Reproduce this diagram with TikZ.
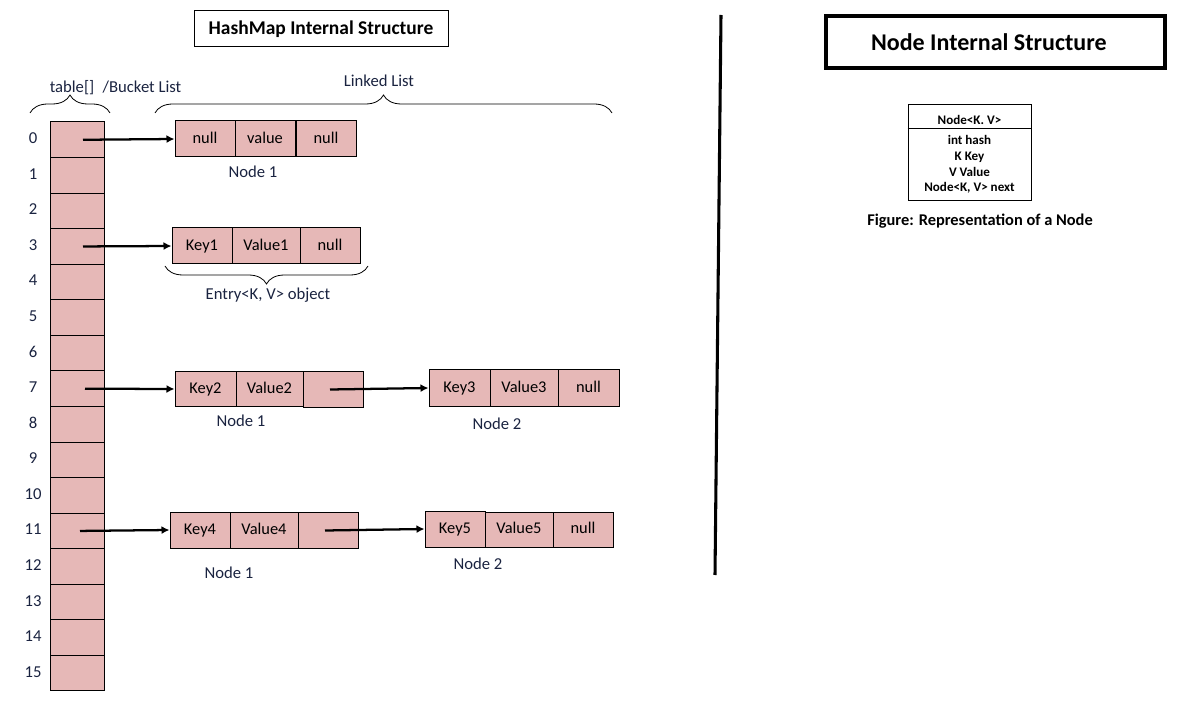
\documentclass[tikz,border=0pt]{standalone}
\usepackage{fontspec}
\setmainfont{Carlito}
\usetikzlibrary{arrows.meta,decorations.pathreplacing}
\definecolor{cellpink}{HTML}{E6B8B7}
\definecolor{labnavy}{HTML}{1A2340}
\tikzset{
  cell/.style={draw=black, line width=0.75pt, fill=cellpink, inner sep=0pt, font=\fontsize{12.3}{14}\selectfont, text=black},
  lab/.style={inner sep=0pt, font=\fontsize{12.5}{14}\selectfont, text=labnavy, text height=8.6pt, text depth=2.6pt, yshift=-1.3pt},
  ptr/.style={line width=1.7pt, -{Latex[length=6pt,width=6pt]}},
  bracedec/.style={decorate, decoration={brace, amplitude=13.5pt}, line width=0.6pt},
  nodetxt/.style={inner sep=0pt, font=\fontsize{9.8}{11}\selectfont\bfseries, text height=7pt, text depth=2pt, yshift=-1pt}
}
\newcommand\mkcell[6]{\node[cell, minimum width=#4*0.75pt, minimum height=#5*0.75pt] (#1) at (#2,#3) {\raisebox{1.5pt}{\vphantom{Kyl}#6}};}
\begin{document}
\begin{tikzpicture}[x=0.75pt,y=-0.75pt]
\useasboundingbox (0,0) rectangle (1200,709);
% title
\node[draw, line width=0.75pt, minimum width=254*0.75pt, minimum height=36*0.75pt, font=\fontsize{14.6}{17}\selectfont\bfseries] (title) at (321,29) {HashMap Internal Structure};
% table
\foreach \i in {0,...,15}{
  \node[cell, minimum width=54*0.75pt, minimum height=35.56*0.75pt] (t\i) at (77,{139.78+35.56*\i}) {};
  \node[lab] (idx\i) at (33,{138+35.56*\i}) {\i};
}
\node[lab] (tbl) at (72,87) {table[]};
\node[lab] (bkt) at (142,87) {/Bucket List};
\node[lab] (ll) at (379,81) {Linked List};
\coordinate (b1a) at (30,113);
\coordinate (b1b) at (110,113);
\draw[bracedec] (b1a) -- (b1b);
\coordinate (b2a) at (155,113);
\draw[bracedec] (b2a) -- (612,113) coordinate (b2b);
% row 0
\mkcell{n0a}{205}{139}{60}{36}{null}
\mkcell{n0b}{265}{139}{60}{36}{value}
\mkcell{n0c}{326}{139}{60}{36}{null}
\node[lab] (n0lab) at (253,172) {Node 1};
\draw[ptr] ([xshift=4.5pt]t0.center) -- (n0a.west);
% row 3
\mkcell{n3a}{202}{246}{60}{36}{Key1}
\mkcell{n3b}{266}{246}{68}{36}{Value1}
\mkcell{n3c}{330}{246}{60}{36}{null}
\draw[ptr] ([xshift=4.5pt]t3.center) -- (n3a.west);
\coordinate (b3a) at (368,266);
\coordinate (b3b) at (165,266);
\draw[bracedec] (b3a) -- (b3b);
\node[lab] (entry) at (268,294) {Entry<K, V> object};
% row 7
\mkcell{n7a}{205.5}{389}{61}{35}{Key2}
\mkcell{n7b}{269.5}{389}{67}{35}{Value2}
\mkcell{n7c}{333}{389.5}{60}{36}{}
\mkcell{m7a}{459.5}{388}{61}{36}{Key3}
\mkcell{m7b}{524}{388}{68}{36}{Value3}
\mkcell{m7c}{588.5}{388}{61}{36}{null}
\draw[ptr] ([xshift=6pt]t7.center) -- (n7a.west);
\draw[ptr] ([xshift=-2.25pt]n7c.center) -- (m7a.west);
\node[lab] (n7lab) at (241,421) {Node 1};
\node[lab] (m7lab) at (497,424) {Node 2};
% row 11
\mkcell{n11a}{200}{530}{60}{36}{Key4}
\mkcell{n11b}{264}{530}{68}{36}{Value4}
\mkcell{n11c}{328}{530.5}{60}{36}{}
\mkcell{m11a}{455}{529}{60}{36}{Key5}
\mkcell{m11b}{519}{529.5}{68}{35}{Value5}
\mkcell{m11c}{583}{529.5}{60}{35}{null}
\draw[ptr] ([xshift=2.25pt]t11.center) -- (n11a.west);
\draw[ptr] ([xshift=-2.25pt]n11c.center) -- (m11a.west);
\node[lab] (n11lab) at (229,573) {Node 1};
\node[lab] (m11lab) at (478,564) {Node 2};
% divider
\coordinate (dv1) at (721,15);
\coordinate (dv2) at (715,575);
\draw[line width=2.3pt] (dv1) -- (dv2);
% right side
\node[draw, line width=2.3pt, minimum width=339*0.75pt, minimum height=52*0.75pt, font=\fontsize{18}{21}\selectfont\bfseries] (ntitle) at (995.5,42) {\hspace*{-10pt}Node Internal Structure};
\node[draw, line width=0.75pt, minimum width=123*0.75pt, minimum height=96*0.75pt] (nbox) at (969.5,153) {};
\draw[line width=0.75pt] (nbox.west |- 0,129) coordinate (hl1) -- (nbox.east |- 0,129) coordinate (hl2);
\node[nodetxt] (nh) at (969.5,119.5) {Node<K. V>};
\node[nodetxt] (f1) at (969.5,140) {int hash};
\node[nodetxt] (f2) at (969.5,156) {K Key};
\node[nodetxt] (f3) at (969.5,172) {V Value};
\node[nodetxt] (f4) at (969.5,187) {Node<K, V> next};
\node[inner sep=0pt, font=\fontsize{12.3}{14}\selectfont\bfseries] (fig) at (980,221) {Figure: Representation of a Node};
\end{tikzpicture}
\end{document}
